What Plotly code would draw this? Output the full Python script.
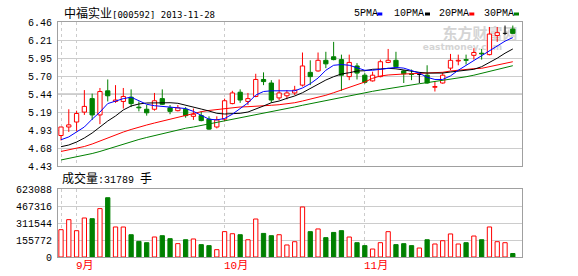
import plotly.graph_objects as go

# ---------------- data ----------------
title_name = "中福实业"
title_code = "[000592] 2013-11-28"
volume_label = "成交量"
volume_unit = "手"
last_volume_text = "31789"

ma_names = ["5PMA", "10PMA", "20PMA", "30PMA"]
ma_colors = ["#0000ff", "#000000", "#ff0000", "#008000"]

price_tick_labels = ["4.43", "4.68", "4.93", "5.19", "5.44", "5.70", "5.95", "6.21", "6.46"]
price_min, price_max = 4.43, 6.46
volume_tick_labels = ["0", "155772", "311544", "467316", "623088"]
volume_max = 623088

month_labels = ["9月", "10月", "11月"]
month_start_idx = [2, 21, 39]
grid_idx = [0, 2, 21, 39]

open_ = [4.86, 4.98, 5.05, 5.19, 5.38, 5.15, 5.49, 5.34, 5.34, 5.40,
         5.26, 5.23, 5.23, 5.38, 5.25, 5.21, 5.23, 5.13, 5.14, 5.09,
         4.98, 5.09, 5.31, 5.47, 5.34, 5.41, 5.65, 5.60, 5.39, 5.42,
         5.46, 5.57, 5.75, 5.77, 5.92, 5.97, 5.93, 5.69, 5.84, 5.71,
         5.63, 5.69, 5.89, 5.92, 5.77, 5.73, 5.72, 5.71, 5.54, 5.60,
         5.81, 5.91, 5.93, 5.99, 6.02, 6.00, 6.27, 6.30, 6.36]
high = [4.98, 5.23, 5.21, 5.50, 5.45, 5.53, 5.65, 5.57, 5.53, 5.51,
        5.34, 5.29, 5.46, 5.51, 5.29, 5.29, 5.26, 5.24, 5.20, 5.13,
        5.13, 5.38, 5.49, 5.51, 5.46, 5.73, 5.75, 5.64, 5.65, 5.50,
        5.56, 6.03, 5.92, 6.03, 6.04, 6.18, 6.00, 6.00, 5.88, 5.74,
        5.76, 5.93, 6.08, 6.04, 5.78, 5.79, 5.75, 5.85, 5.62, 5.75,
        6.01, 6.00, 6.00, 6.09, 6.08, 6.39, 6.39, 6.41, 6.41]
low = [4.79, 4.91, 4.92, 5.15, 5.08, 5.02, 5.34, 5.32, 5.24, 5.26,
       5.20, 5.14, 5.21, 5.29, 5.16, 5.20, 5.11, 5.08, 5.06, 4.94,
       4.96, 5.06, 5.30, 5.32, 5.29, 5.40, 5.57, 5.32, 5.36, 5.37,
       5.43, 5.55, 5.57, 5.76, 5.81, 5.92, 5.49, 5.64, 5.65, 5.59,
       5.62, 5.68, 5.88, 5.82, 5.60, 5.64, 5.60, 5.59, 5.48, 5.59,
       5.78, 5.85, 5.86, 5.93, 5.93, 5.99, 6.18, 6.28, 6.29]
close = [4.98, 5.01, 5.17, 5.27, 5.15, 5.48, 5.42, 5.36, 5.41, 5.31,
         5.25, 5.18, 5.35, 5.30, 5.20, 5.25, 5.14, 5.16, 5.07, 4.95,
         5.08, 5.35, 5.46, 5.36, 5.38, 5.65, 5.62, 5.36, 5.46, 5.46,
         5.50, 5.84, 5.69, 5.92, 5.87, 5.93, 5.71, 5.89, 5.74, 5.61,
         5.71, 5.90, 5.92, 5.83, 5.73, 5.72, 5.72, 5.60, 5.55, 5.71,
         5.92, 5.92, 5.92, 6.03, 6.01, 6.29, 6.31, 6.30, 6.30]
volume = [250310, 342150, 241020, 357480, 351060, 443270, 543180, 275040, 274860, 204120,
          143250, 131080, 183340, 195160, 168020, 122450, 158300, 165110, 113270, 104060,
          67120, 232400, 213180, 204250, 158090, 348230, 216170, 195300, 204160, 110240,
          140120, 458350, 232210, 257060, 177340, 225180, 241270, 183050, 131160, 104210,
          73140, 131230, 232090, 113310, 122060, 104150, 82270, 158120, 119240, 149060,
          211300, 119080, 131210, 192160, 158340, 275120, 140260, 131050, 31789]

ma5 = [4.80, 4.84, 4.91, 4.98, 5.09, 5.19, 5.31, 5.35, 5.38, 5.40,
       5.35, 5.30, 5.28, 5.27, 5.27, 5.26, 5.24, 5.20, 5.15, 5.09,
       5.08, 5.10, 5.16, 5.24, 5.32, 5.43, 5.48, 5.49, 5.49, 5.49,
       5.49, 5.53, 5.59, 5.67, 5.78, 5.85, 5.86, 5.85, 5.82, 5.78,
       5.78, 5.79, 5.81, 5.82, 5.81, 5.77, 5.74, 5.68, 5.65, 5.65,
       5.70, 5.78, 5.85, 5.92, 5.99, 6.05, 6.12, 6.19, 6.24]
ma10 = [4.702, 4.726, 4.768, 4.825, 4.895, 4.98, 5.064, 5.135, 5.22, 5.276,
        5.304, 5.318, 5.322, 5.328, 5.322, 5.314, 5.29, 5.262, 5.233, 5.205,
        5.173, 5.163, 5.163, 5.173, 5.191, 5.229, 5.276, 5.322, 5.346, 5.384,
        5.417, 5.463, 5.525, 5.586, 5.642, 5.689, 5.727, 5.745, 5.769, 5.773,
        5.793, 5.797, 5.807, 5.80, 5.78, 5.765, 5.75, 5.74, 5.735, 5.74,
        5.755, 5.77, 5.783, 5.793, 5.83, 5.886, 5.95, 6.02, 6.08]
ma20 = [4.635, 4.656, 4.677, 4.705, 4.74, 4.783, 4.832, 4.874, 4.909, 4.945,
        4.98, 5.008, 5.036, 5.064, 5.093, 5.121, 5.149, 5.173, 5.196, 5.213,
        5.224, 5.238, 5.255, 5.262, 5.266, 5.276, 5.28, 5.286, 5.294, 5.304,
        5.322, 5.346, 5.37, 5.393, 5.427, 5.463, 5.502, 5.54, 5.572, 5.614,
        5.666, 5.699, 5.713, 5.723, 5.727, 5.731, 5.737, 5.741, 5.745, 5.751,
        5.769, 5.783, 5.793, 5.802, 5.807, 5.83, 5.854, 5.878, 5.90]
ma30 = [4.515, 4.536, 4.557, 4.578, 4.606, 4.635, 4.67, 4.705, 4.74, 4.768,
        4.804, 4.832, 4.86, 4.888, 4.916, 4.938, 4.962, 4.98, 5.001, 5.022,
        5.043, 5.064, 5.086, 5.107, 5.128, 5.149, 5.17, 5.191, 5.215, 5.238,
        5.262, 5.286, 5.308, 5.332, 5.356, 5.379, 5.403, 5.424, 5.445, 5.466,
        5.483, 5.502, 5.52, 5.545, 5.56, 5.575, 5.59, 5.605, 5.62, 5.635,
        5.65, 5.668, 5.688, 5.71, 5.735, 5.76, 5.785, 5.812, 5.844]

# ---------------- layout geometry ----------------
W, H = 578, 276
ML, MR, MT, MB = 58, 56, 22, 19
PW, PH = W - ML - MR, H - MT - MB


def px(x):
    return (x - ML) / PW


def py(y):
    return (H - MB - y) / PH


RED, GREEN, BLACK = "#ff0000", "#008000", "#000000"
n = len(close)
xs = list(range(n))
bw = 0.55

fig = go.Figure()


def wick_trace(color, kind):
    wx, wy = [], []
    for i in xs:
        o, c, h, l = open_[i], close[i], high[i], low[i]
        if kind == "up" and c > o:
            wx += [i, i, None, i, i, None]
            wy += [h, c, None, o, l, None]
        elif kind == "down" and c < o:
            wx += [i, i, None, i, i, None]
            wy += [h, o, None, c, l, None]
        elif kind == "flat" and c == o:
            wx += [i, i, None, i - bw / 2, i + bw / 2, None]
            wy += [h, l, None, o, o, None]
    return go.Scatter(x=wx, y=wy, mode="lines", line=dict(color=color, width=1),
                      hoverinfo="skip", showlegend=False, xaxis="x", yaxis="y")


fig.add_trace(wick_trace(RED, "up"))
fig.add_trace(wick_trace(GREEN, "down"))
fig.add_trace(wick_trace(BLACK, "flat"))

# candle bodies
up = [i for i in xs if close[i] > open_[i]]
dn = [i for i in xs if close[i] < open_[i]]
fig.add_trace(go.Bar(x=up, base=[open_[i] for i in up], y=[close[i] - open_[i] for i in up],
                     width=bw, marker=dict(color="white", line=dict(color=RED, width=1)),
                     showlegend=False, xaxis="x", yaxis="y"))
fig.add_trace(go.Bar(x=dn, base=[close[i] for i in dn], y=[open_[i] - close[i] for i in dn],
                     width=bw, marker=dict(color=GREEN, line=dict(color=GREEN, width=1)),
                     showlegend=False, xaxis="x", yaxis="y"))

# moving averages
for vals, col in zip([ma30, ma20, ma10, ma5], ma_colors[::-1]):
    fig.add_trace(go.Scatter(x=xs, y=vals, mode="lines", line=dict(color=col, width=1),
                             showlegend=False, xaxis="x", yaxis="y"))

# volume
vu = [i for i in xs if close[i] >= open_[i]]
vd = [i for i in xs if close[i] < open_[i]]
fig.add_trace(go.Bar(x=vu, y=[volume[i] for i in vu], width=bw,
                     marker=dict(color="white", line=dict(color=RED, width=1)),
                     showlegend=False, xaxis="x2", yaxis="y2"))
fig.add_trace(go.Bar(x=vd, y=[volume[i] for i in vd], width=bw,
                     marker=dict(color=GREEN, line=dict(color=GREEN, width=1)),
                     showlegend=False, xaxis="x2", yaxis="y2"))

price_tickvals = [price_min + k * (price_max - price_min) / (len(price_tick_labels) - 1)
                  for k in range(len(price_tick_labels))]
vol_tickvals = [k * volume_max / (len(volume_tick_labels) - 1) for k in range(len(volume_tick_labels))]

xr = [-0.385, 59.18]
BORDER = "#a0a0a0"
GRID = "#cccccc"
tickfont = dict(family="Liberation Mono, DejaVu Sans Mono, monospace", size=10, color="#000000")

xcommon = dict(range=xr, tickvals=grid_idx, showticklabels=False, ticks="",
               showgrid=True, gridcolor=GRID, griddash="3px,3px", gridwidth=1,
               showline=True, linecolor=BORDER, linewidth=1, mirror=True, zeroline=False)

fig.update_layout(
    width=W, height=H, margin=dict(l=ML, r=MR, t=MT, b=MB, pad=0),
    paper_bgcolor="white", plot_bgcolor="white", barmode="overlay",
    showlegend=False, hovermode=False,
    xaxis=dict(anchor="y", domain=[0, 1], **xcommon),
    xaxis2=dict(anchor="y2", domain=[0, 1], **xcommon),
    yaxis=dict(anchor="x", domain=[py(166), 1], range=[price_min, price_max],
               tickvals=price_tickvals, ticktext=price_tick_labels, ticks="",
               tickfont=tickfont, showgrid=True, gridcolor=GRID, gridwidth=1,
               showline=True, linecolor=BORDER, linewidth=1, mirror=True, zeroline=False,
               ticklabelstandoff=3),
    yaxis2=dict(anchor="x2", domain=[0, py(189)], range=[0, volume_max],
                tickvals=vol_tickvals, ticktext=volume_tick_labels, ticks="",
                tickfont=tickfont, showgrid=True, gridcolor=GRID, gridwidth=1,
                showline=True, linecolor=BORDER, linewidth=1, mirror=True, zeroline=False,
                ticklabelstandoff=3),
)

shapes = []
shapes.append(dict(type="line", xref="x domain", yref="y", x0=0, x1=1,
                   y0=price_tickvals[4], y1=price_tickvals[4],
                   line=dict(color="#a8a8a8", width=1), layer="below"))
legend_pos = [(351.7, 377.3), (391.7, 425.0), (436.7, 469.3), (481.7, 514.0)]
for (tx, rx), col in zip(legend_pos, ma_colors):
    shapes.append(dict(type="rect", xref="paper", yref="paper",
                       x0=px(rx), x1=px(rx + 5), y0=py(15.5), y1=py(12.5),
                       fillcolor=col, line=dict(width=0)))
shapes.append(dict(type="rect", xref="paper", yref="paper",
                   x0=px(440), x1=px(520), y0=py(41), y1=py(27),
                   line=dict(width=0), fillcolor="rgba(0,0,0,0)", layer="below",
                   label=dict(text="<b>东方财富网</b>", font=dict(family="Noto Sans CJK SC", size=15, color="#d4d4d4"),
                              textposition="middle center")))
shapes.append(dict(type="rect", xref="paper", yref="paper",
                   x0=px(425), x1=px(500), y0=py(50), y1=py(42),
                   line=dict(width=0), fillcolor="rgba(0,0,0,0)", layer="below",
                   label=dict(text="<b>eastmoney.com</b>", font=dict(family="DejaVu Sans", size=9, color="#d4d4d4"),
                              textposition="middle center")))
fig.update_layout(shapes=shapes)

ann = []
ann.append(dict(xref="paper", yref="paper", x=px(62), y=py(12.5), xanchor="left", yanchor="middle",
                showarrow=False,
                text=(f'<span style="font-family:Noto Sans CJK SC;font-size:12px">{title_name}</span>'
                      f'<span style="font-family:DejaVu Sans Mono;font-size:9px">{title_code}</span>'),
                font=dict(family="Noto Sans CJK SC", size=12, color="#000000")))
for (tx, rx), name in zip(legend_pos, ma_names):
    ann.append(dict(xref="paper", yref="paper", x=px(tx), y=py(13.8), xanchor="left", yanchor="middle",
                    showarrow=False, text=name,
                    font=dict(family="Liberation Mono, monospace", size=10, color="#000000")))
ann.append(dict(xref="paper", yref="paper", x=px(60), y=py(177), xanchor="left", yanchor="middle",
                showarrow=False,
                text=(f'<span style="font-family:Noto Sans CJK SC;font-size:12px">{volume_label}</span>'
                      f'<span style="font-family:Liberation Mono;font-size:10px">:{last_volume_text} </span>'
                      f'<span style="font-family:Noto Sans CJK SC;font-size:12px">{volume_unit}</span>'),
                font=dict(family="Noto Sans CJK SC", size=12, color="#000000")))
for lab, idx in zip(month_labels, month_start_idx):
    ann.append(dict(xref="x2", yref="paper", x=idx, y=py(266), xanchor="left", yanchor="middle",
                    xshift=-3, showarrow=False, text=lab,
                    font=dict(family="Liberation Mono, Noto Sans CJK SC", size=11, color=RED)))
fig.update_layout(annotations=ann)

fig.write_html("out.html")
